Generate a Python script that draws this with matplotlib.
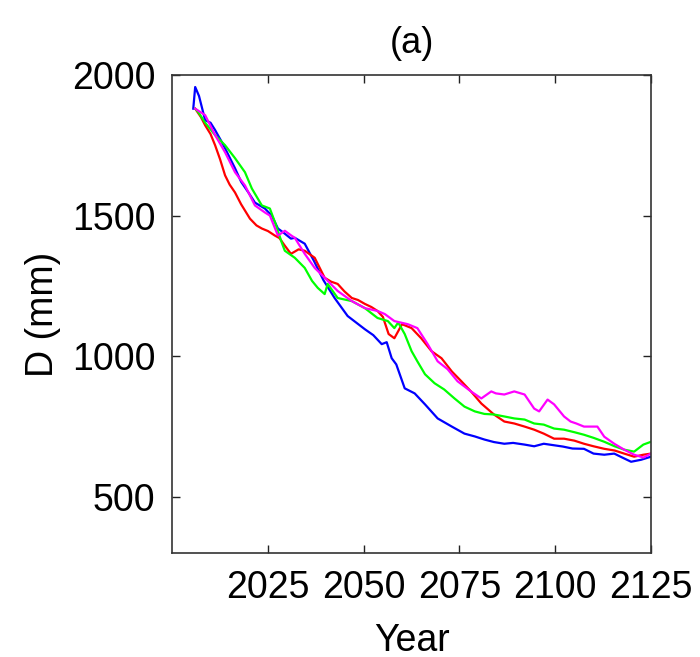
import matplotlib
matplotlib.use("Agg")
import matplotlib.pyplot as plt

plt.rcParams['font.family'] = ['Liberation Sans', 'DejaVu Sans']

blue_years = [2005.5, 2006.0, 2007.0, 2008.6, 2010, 2011.2, 2013, 2014.5, 2016.4, 2018, 2020, 2021.6, 2024.2, 2026, 2027.6, 2029, 2031, 2032, 2034.6, 2037, 2039.5, 2042.4, 2045.8, 2048, 2050.3, 2052.5, 2054.7, 2056, 2057.3, 2058.5, 2060.7, 2063.3, 2066, 2069.3, 2073, 2076.3, 2079, 2081.5, 2084, 2086.7, 2089, 2092, 2094.5, 2097, 2099.5, 2102, 2104.5, 2107.5, 2110, 2112.8, 2115.4, 2117.5, 2119.8, 2122.4, 2125]
blue_D = [1880, 1957, 1925, 1839, 1830, 1804, 1760, 1720, 1668, 1620, 1580, 1546, 1525, 1500, 1454, 1440, 1418, 1421, 1400, 1339, 1270, 1207, 1143, 1120, 1096, 1075, 1043, 1050, 993, 971, 886, 868, 829, 779, 750, 725, 715, 704, 695, 689, 692, 686, 680, 689, 684, 679, 672, 671, 654, 650, 654, 640, 625, 632, 643]

red_years = [2006, 2007.5, 2008.6, 2010, 2011.2, 2012.5, 2013.8, 2015, 2016.4, 2018, 2020.3, 2022, 2023.4, 2025, 2026.8, 2028, 2029.4, 2031, 2033, 2034.6, 2037.2, 2039.8, 2041.5, 2043.2, 2045, 2046.9, 2048.5, 2050.3, 2052, 2053.6, 2055, 2056.5, 2058, 2060, 2062.5, 2065, 2067.7, 2070.3, 2073, 2075.5, 2078, 2080.7, 2084, 2086.7, 2089.3, 2092, 2094.5, 2097, 2099.7, 2102.3, 2105, 2107.5, 2110, 2112.8, 2115.5, 2118, 2120.6, 2123, 2125]
red_D = [1880, 1850, 1821, 1790, 1750, 1700, 1643, 1610, 1582, 1540, 1489, 1465, 1454, 1445, 1429, 1420, 1393, 1364, 1380, 1375, 1350, 1279, 1265, 1257, 1230, 1207, 1200, 1186, 1175, 1161, 1140, 1079, 1064, 1114, 1100, 1064, 1018, 993, 946, 911, 875, 832, 793, 768, 761, 750, 739, 725, 707, 707, 700, 689, 680, 671, 665, 654, 643, 650, 654]

green_years = [2006, 2006.8, 2008.6, 2011.2, 2013.8, 2016.4, 2019, 2020.8, 2023.4, 2025.5, 2027, 2028.6, 2029.4, 2032, 2034.6, 2036.5, 2038, 2039.8, 2040.6, 2043.2, 2046.9, 2050.3, 2053.6, 2056.3, 2058, 2059, 2060.7, 2062.5, 2064, 2066, 2068.5, 2071, 2073.7, 2076.3, 2079, 2081.5, 2084, 2086.7, 2089.3, 2092, 2094.5, 2097, 2099.7, 2102.3, 2105, 2107.5, 2110, 2112.8, 2115.5, 2118, 2120.6, 2123, 2125]
green_D = [1880, 1868, 1830, 1786, 1750, 1704, 1654, 1596, 1536, 1525, 1470, 1404, 1375, 1350, 1314, 1268, 1243, 1221, 1257, 1207, 1196, 1171, 1136, 1125, 1100, 1120, 1079, 1018, 982, 936, 904, 882, 850, 821, 804, 795, 793, 786, 779, 775, 761, 757, 743, 739, 730, 721, 710, 696, 680, 668, 661, 686, 696]

magenta_years = [2006, 2008.6, 2011.2, 2013.8, 2016.4, 2019, 2021.6, 2024.2, 2025.5, 2027.6, 2029.4, 2031, 2032, 2034.6, 2037.2, 2039.8, 2043.2, 2046.9, 2050.3, 2053.6, 2055.5, 2058, 2061.5, 2064, 2066.7, 2069.3, 2071.9, 2074.5, 2078, 2080.7, 2083.3, 2084.5, 2086.7, 2089.3, 2092, 2094.5, 2095.8, 2098, 2099.7, 2102.3, 2104, 2105.5, 2107.5, 2111, 2112.8, 2115.4, 2118, 2120.6, 2123, 2125]
magenta_D = [1880, 1857, 1786, 1725, 1654, 1607, 1536, 1511, 1500, 1429, 1446, 1430, 1421, 1364, 1314, 1279, 1232, 1196, 1171, 1161, 1150, 1125, 1114, 1100, 1043, 982, 954, 911, 875, 850, 875, 868, 864, 875, 864, 814, 804, 846, 829, 786, 768, 761, 750, 750, 714, 689, 668, 650, 640, 654]

xticks = [2025, 2050, 2075, 2100, 2125]
yticks = [500, 1000, 1500, 2000]

fig = plt.figure(figsize=(7.0, 6.57), dpi=100)
ax = fig.add_axes([0.246, 0.158, 0.684, 0.728])

ax.plot(blue_years, blue_D, color=(0, 0, 1), lw=1.6)
ax.plot(red_years, red_D, color=(1, 0, 0), lw=1.6)
ax.plot(green_years, green_D, color=(0, 1, 0), lw=1.6)
ax.plot(magenta_years, magenta_D, color=(1, 0, 1), lw=1.6)

ax.set_xlim(2000, 2125)
ax.set_ylim(300, 2000)
ax.set_xticks(xticks)
ax.set_xticklabels([str(t) for t in xticks])
ax.set_yticks(yticks)
ax.set_yticklabels([str(t) for t in yticks])
ax.tick_params(direction='in', length=6, width=1, top=True, right=True,
               labelsize=27, pad=12, colors='#222222', labelcolor='black')
for s in ax.spines.values():
    s.set_linewidth(1.2)
    s.set_color('#333333')

ax.set_xlabel('Year', fontsize=27, labelpad=12)
ax.set_ylabel('D (mm)', fontsize=27, labelpad=8)
ax.set_title('(a)', fontsize=26, pad=16)

fig.savefig('out.png', dpi=100)
